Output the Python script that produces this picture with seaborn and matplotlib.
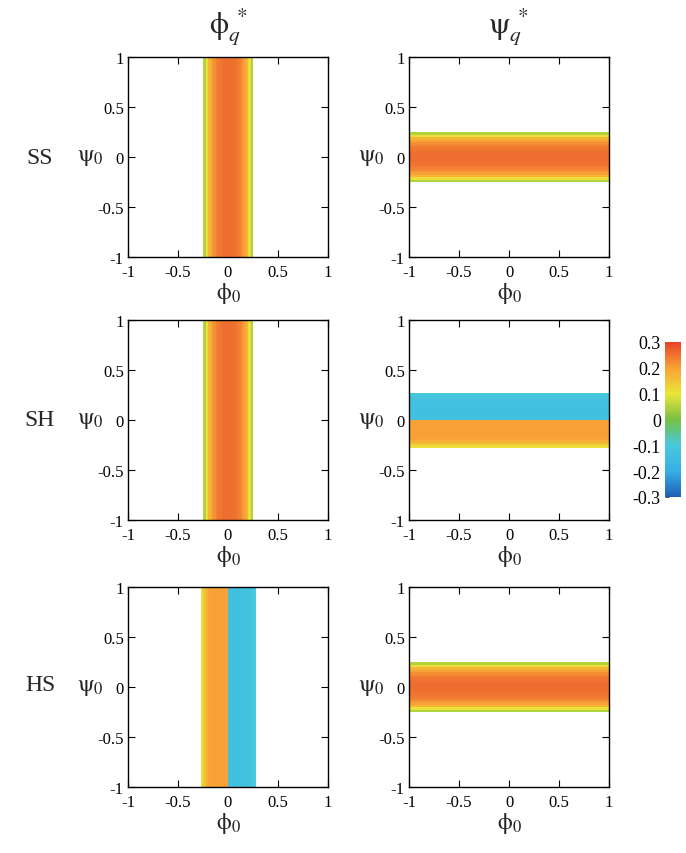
import numpy as np
import matplotlib
matplotlib.use("Agg")
import matplotlib.pyplot as plt
import seaborn as sns
from matplotlib.colors import LinearSegmentedColormap
from matplotlib.ticker import MultipleLocator

sns.set_theme(style="ticks")
plt.rcParams["font.family"] = ["Liberation Serif", "DejaVu Serif"]
plt.rcParams["mathtext.fontset"] = "stix"

# ---- data ----
cell = 0.025
ticks = [-1, -0.5, 0, 0.5, 1]
tick_labels = ["-1", "-0.5", "0", "0.5", "1"]
cbar_ticks = [-0.3, -0.2, -0.1, 0, 0.1, 0.2, 0.3]

# SS, phi_q* : profile along phi0 (band from -0.25)
ss_phi_lo = -0.25
ss_phi_vals = [0.05, 0.11, 0.17, 0.20, 0.22, 0.235, 0.245, 0.25, 0.255, 0.255,
               0.255, 0.255, 0.25, 0.245, 0.235, 0.22, 0.20, 0.17, 0.11, 0.05]
# SS, psi_q* : profile along psi0 (bottom to top)
ss_psi_lo = -0.25
ss_psi_vals = [0.05, 0.11, 0.17, 0.20, 0.22, 0.235, 0.245, 0.25, 0.255, 0.255,
               0.255, 0.255, 0.25, 0.245, 0.235, 0.22, 0.20, 0.17, 0.11, 0.05]
# SH, phi_q*
sh_phi_lo = -0.25
sh_phi_vals = [0.05, 0.11, 0.17, 0.20, 0.22, 0.235, 0.245, 0.25, 0.255, 0.255,
               0.255, 0.255, 0.25, 0.245, 0.235, 0.22, 0.20, 0.17, 0.11, 0.05]
# SH, psi_q* (bottom to top)
sh_psi_lo = -0.275
sh_psi_vals = [0.11, 0.15, 0.18, 0.195, 0.2, 0.2, 0.2, 0.2, 0.2, 0.2, 0.2,
               -0.135, -0.135, -0.135, -0.135, -0.135, -0.135, -0.135, -0.13, -0.125, -0.115, -0.10]
# HS, phi_q*
hs_phi_lo = -0.275
hs_phi_vals = [0.11, 0.15, 0.18, 0.195, 0.2, 0.2, 0.2, 0.2, 0.2, 0.2, 0.2,
               -0.135, -0.135, -0.135, -0.135, -0.135, -0.135, -0.135, -0.13, -0.125, -0.115, -0.10]
# HS, psi_q* (bottom to top)
hs_psi_lo = -0.25
hs_psi_vals = [0.05, 0.11, 0.17, 0.20, 0.22, 0.235, 0.245, 0.25, 0.255, 0.255,
               0.255, 0.255, 0.25, 0.245, 0.235, 0.22, 0.20, 0.17, 0.11, 0.05]

rows = ["SS", "SH", "HS"]
panels = [
    [("x", ss_phi_lo, ss_phi_vals), ("y", ss_psi_lo, ss_psi_vals)],
    [("x", sh_phi_lo, sh_phi_vals), ("y", sh_psi_lo, sh_psi_vals)],
    [("x", hs_phi_lo, hs_phi_vals), ("y", hs_psi_lo, hs_psi_vals)],
]

cmap = LinearSegmentedColormap.from_list(
    "bandmap",
    [(0.0, "#1e5fb5"), (1/6, "#37b0e6"), (2/6, "#48c8dc"), (3/6, "#78c043"),
     (4/6, "#ece53a"), (5/6, "#f8a236"), (1.0, "#e8432a")])
vmin, vmax = -0.3, 0.3

n = int(round(2 / cell))

def build(direction, lo, vals):
    prof = np.full(n, np.nan)
    start = int(round((lo + 1) / cell))
    prof[start:start + len(vals)] = vals
    if direction == "x":
        return np.tile(prof, (n, 1))
    # heatmap row 0 is at top -> flip
    return np.tile(prof[::-1][:, None], (1, n))

fig = plt.figure(figsize=(6.86, 8.54), dpi=100)
W, H = 686, 854
lefts = [128, 409]
bottoms = [258, 521, 788]
size = 200

tick_pos = [(t + 1) / cell for t in ticks]

for r in range(3):
    for c in range(2):
        l = lefts[c] / W
        b = 1 - bottoms[r] / H
        ax = fig.add_axes([l, b, size / W, size / H])
        d, lo, vals = panels[r][c]
        data = build(d, lo, vals)
        sns.heatmap(data, ax=ax, cmap=cmap, vmin=vmin, vmax=vmax, cbar=False,
                    xticklabels=False, yticklabels=False)
        ax.set_xlim(0, n)
        ax.set_ylim(n, 0)
        for s in ax.spines.values():
            s.set_visible(True)
            s.set_color("black")
            s.set_linewidth(1.0)
        ax.set_xticks(tick_pos)
        ax.set_xticklabels(tick_labels, fontsize=12)
        ax.set_yticks([n - p for p in tick_pos])
        ax.set_yticklabels(tick_labels, fontsize=12)
        ax.tick_params(direction="in", length=5, width=0.8, top=True, right=True,
                       colors="black")
        ax.tick_params(axis="x", pad=5)
        ax.tick_params(axis="y", pad=3)
        ax.set_xlabel(r"$\mathrm{\phi}_0$", fontsize=17, labelpad=0)
        ax.set_ylabel(r"$\mathrm{\psi}_0$", fontsize=17, rotation=0, labelpad=5, va="center")
        ax.patch.set_facecolor("white")

# column titles
fig.text(228 / W, 1 - 27 / H, r"$\mathrm{\phi}_q^{\ *}$", fontsize=22, ha="center", va="center")
fig.text(509 / W, 1 - 27 / H, r"$\mathrm{\psi}_q^{\ *}$", fontsize=22, ha="center", va="center")

# row labels
for lab, y in zip(rows, [158, 421, 686]):
    fig.text(40 / W, 1 - y / H, lab, fontsize=17, ha="center", va="center")

# colorbar
cax = fig.add_axes([665 / W, 1 - 498 / H, 16 / W, 155 / H])
sm = matplotlib.cm.ScalarMappable(cmap=cmap, norm=matplotlib.colors.Normalize(vmin, vmax))
cb = fig.colorbar(sm, cax=cax, ticks=cbar_ticks)
cb.outline.set_visible(False)
cax.yaxis.set_ticks_position("left")
cax.yaxis.set_label_position("left")
cax.set_yticklabels(["-0.3", "-0.2", "-0.1", "0", "0.1", "0.2", "0.3"], fontsize=13)
cax.yaxis.set_minor_locator(MultipleLocator(0.02))
cax.tick_params(which="both", direction="in", length=3, width=0.6, colors="#333333", pad=3)
cax.tick_params(axis="y", labelcolor="black")

fig.savefig("out.png", dpi=100)
